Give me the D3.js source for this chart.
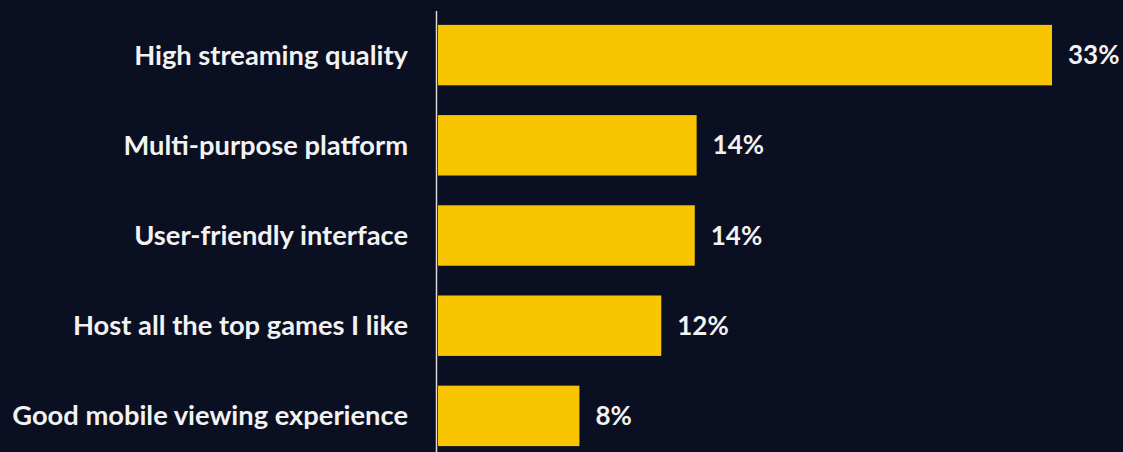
<!DOCTYPE html>
<html><head><meta charset="utf-8">
<script src="https://cdn.jsdelivr.net/npm/d3@7"></script>
<style>html,body{margin:0;padding:0;background:#0a0f21;}svg{display:block;}</style>
</head><body>
<svg id="c" width="1123" height="452"></svg>
<script>
const categories = ["High streaming quality","Multi-purpose platform","User-friendly interface","Host all the top games I like","Good mobile viewing experience"];
const values = [33, 13.9, 13.8, 12.0, 7.6];
const valueLabels = ["33%","14%","14%","12%","8%"];

const W = 1123, H = 452;
const svg = d3.select("#c");
svg.append("rect").attr("width",W).attr("height",H).attr("fill","#0a0f21");

const x = d3.scaleLinear().domain([0,33]).range([438,1052]);
const y = d3.scaleBand().domain(categories).range([10,461]).paddingInner(0.33).paddingOuter(0.165);

svg.selectAll("rect.bar").data(categories).join("rect").attr("class","bar")
  .attr("x", x(0)).attr("y", d=>y(d)).attr("height", y.bandwidth())
  .attr("width", (d,i)=>x(values[i])-x(0)).attr("fill","#f9c500");

svg.append("line").attr("x1",436.5).attr("x2",436.5).attr("y1",11).attr("y2",H)
  .attr("stroke","#d9d9d9").attr("stroke-width",1.5);

const font = "Lato, 'Open Sans', sans-serif";
svg.selectAll("text.cat").data(categories).join("text").attr("class","cat")
  .attr("x",408).attr("y",d=>y(d)+y.bandwidth()/2).attr("dy","0.35em")
  .attr("text-anchor","end").attr("fill","#f2f2f2")
  .style("font-family",font).style("font-weight","700").style("font-size","27.3px")
  .text(d=>d);

svg.selectAll("text.val").data(categories).join("text").attr("class","val")
  .attr("x",(d,i)=>x(values[i])+16).attr("y",d=>y(d)+y.bandwidth()/2).attr("dy","0.35em")
  .attr("fill","#f2f2f2")
  .style("font-family",font).style("font-weight","700").style("font-size","26px")
  .text((d,i)=>valueLabels[i]);
</script>
</body></html>
